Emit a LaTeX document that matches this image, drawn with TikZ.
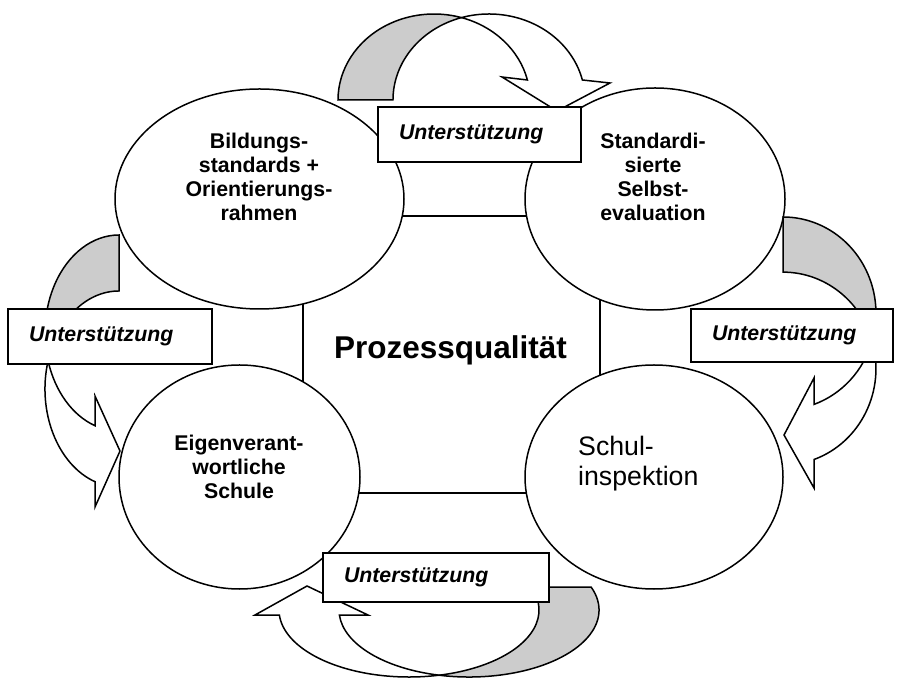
\documentclass[tikz,border=0pt]{standalone}
\usepackage{fontspec}
\setmainfont{Liberation Sans}
\usetikzlibrary{shapes.geometric}
\definecolor{backgrey}{RGB}{204,204,204}
\tikzset{
  stage/.style={ellipse, draw, fill=white, line width=1.5pt, inner sep=0pt},
  stagetext/.style={align=center, font=\fontsize{21.3}{24}\selectfont\bfseries},
  supbox/.style={draw, fill=white, line width=1.5pt, inner ysep=0pt, inner xsep=21pt,
    align=left, font=\fontsize{21.3}{25}\selectfont\bfseries\itshape},
  backface/.style={draw, fill=backgrey, line width=1.5pt},
  frontface/.style={draw, fill=white, line width=1.5pt},
}
\begin{document}
\begin{tikzpicture}[x=1pt, y=1pt]
    \useasboundingbox (0,0) rectangle (909,677);
    \node[draw, line width=1.5pt, minimum width=297pt, minimum height=277pt, inner sep=0pt] (core) at (451.5,322.5) {};
    \node[anchor=base, font=\fontsize{31.5}{36}\selectfont\bfseries] (prozess) at (450.5,318) {Prozessqualität};

    \node[stage, minimum width=289pt, minimum height=220pt] (bildung) at (259.5,478) {};
    \node[stage, minimum width=260pt, minimum height=222pt] (selbst) at (655,478) {};
    \node[stage, minimum width=241pt, minimum height=224pt] (schule) at (239.5,200) {};
    \node[stage, minimum width=258pt, minimum height=224pt] (inspekt) at (654,200) {};

    % top arrow
    \draw[backface] (338,577) arc[start angle=180, end angle=73.36, x radius=96pt, y radius=86pt]
        arc[start angle=106.64, end angle=180, x radius=96pt, y radius=86pt] -- cycle;
    \draw[frontface] (461.5,659.4) arc[start angle=106.64, end angle=13.45, x radius=96pt, y radius=86pt]
        -- (610,594) -- (557,566) -- (502,600) -- (527.4,597)
        arc[start angle=13.45, end angle=73.36, x radius=96pt, y radius=86pt] -- cycle;
    % left arrow
    \draw[backface] (119,442) arc[start angle=90, end angle=196.6, x radius=74pt, y radius=98pt]
        arc[start angle=163.4, end angle=90, x radius=74pt, y radius=98pt] -- cycle;
    \draw[frontface] (48.1,316) arc[start angle=196.6, end angle=251.1, x radius=74pt, y radius=98pt]
        -- (95,281) -- (120,226) -- (95,170) -- (95,195.3)
        arc[start angle=251.1, end angle=163.4, x radius=74pt, y radius=98pt] -- cycle;
    % right arrow
    \draw[backface] (783,460) arc[start angle=90, end angle=-16.6, x radius=93pt, y radius=96.5pt]
        arc[start angle=16.6, end angle=90, x radius=93pt, y radius=96.5pt] -- cycle;
    \draw[frontface] (872.1,336) arc[start angle=-16.6, end angle=-70.5, x radius=93pt, y radius=96.5pt]
        -- (814,299) -- (784,242) -- (814,189) -- (814,217.5)
        arc[start angle=-70.5, end angle=16.6, x radius=93pt, y radius=96.5pt] -- cycle;
    % bottom arrow
    \draw[backface] (591.1,90) arc[start angle=20.1, end angle=-103.34, x radius=130pt, y radius=67pt]
        arc[start angle=-76.66, end angle=20.1, x radius=130pt, y radius=67pt] -- cycle;
    \draw[frontface] (439,1.8) arc[start angle=283.34, end angle=184.28, x radius=130pt, y radius=67pt]
        -- (255,62) -- (307,91) -- (368,62) -- (339.4,62)
        arc[start angle=184.28, end angle=256.66, x radius=130pt, y radius=67pt] -- cycle;

    \node[supbox, minimum width=203pt, minimum height=55pt, text width=161pt] (sup1) at (479.5,542.5) {Unterstützung};
    \node[supbox, minimum width=204pt, minimum height=55pt, text width=162pt] (sup2) at (110,340.5) {Unterstützung};
    \node[supbox, minimum width=202pt, minimum height=53pt, text width=160pt] (sup3) at (792,341.5) {Unterstützung};
    \node[supbox, minimum width=226pt, minimum height=49pt, text width=184pt] (sup4) at (436,99.5) {Unterstützung};

    \node[stagetext] (bildungtxt) at (259,500) {Bildungs-\\standards +\\Orientierungs-\\rahmen};
    \node[stagetext] (selbsttxt) at (653,500) {Standardi-\\sierte\\Selbst-\\evaluation};
    \node[stagetext] (schuletxt) at (239,210.6) {Eigenverant-\\wortliche\\Schule};
    \node[anchor=west, inner sep=0pt, align=left, font=\fontsize{26.7}{30}\selectfont] (inspekttxt) at (578,213.7) {Schul-\\inspektion};
\end{tikzpicture}
\end{document}
